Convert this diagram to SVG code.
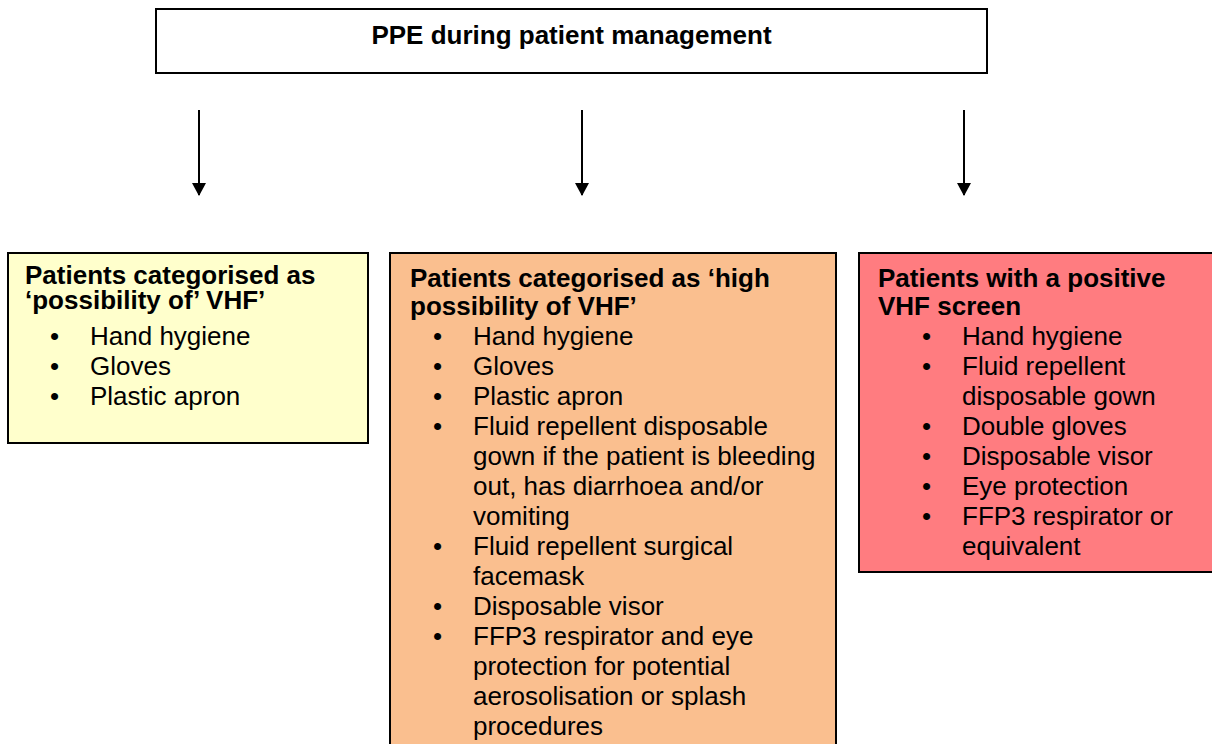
<svg xmlns="http://www.w3.org/2000/svg" width="1212" height="744" viewBox="0 0 1212 744">
<defs>
<marker id="arr" markerUnits="userSpaceOnUse" markerWidth="13" markerHeight="14" refX="12" refY="7" orient="auto" viewBox="0 0 13 14">
<path d="M0,0 L13,7 L0,14 Z" fill="#000"/>
</marker>
<style>
.box{stroke:#000;stroke-width:2}
.t{font-family:"Liberation Sans",Arial,sans-serif;font-size:26px;fill:#000}
.h{font-weight:bold}
.title{font-family:"Liberation Sans",Arial,sans-serif;font-size:26px;font-weight:bold;fill:#000}
.conn{stroke:#000;stroke-width:2;fill:none}
</style>
</defs>
<rect width="1212" height="744" fill="#fff"/>
<g id="top">
<rect class="box" x="156" y="9" width="831" height="64" fill="#fff"/>
<text class="title" x="571.5" y="44" text-anchor="middle">PPE during patient management</text>
</g>
<g id="connectors">
<line class="conn" x1="199" y1="110" x2="199" y2="195" marker-end="url(#arr)"/>
<line class="conn" x1="582" y1="110" x2="582" y2="195" marker-end="url(#arr)"/>
<line class="conn" x1="964" y1="110" x2="964" y2="195" marker-end="url(#arr)"/>
</g>
<g id="possible">
<rect class="box" x="8" y="253" width="360" height="190" fill="#FFFFCC"/>
<text class="t h" x="25" y="284">Patients categorised as</text>
<text class="t h" x="25" y="309">‘possibility of’ VHF’</text>
<text class="t" x="50" y="345">•</text><text class="t" x="90" y="345">Hand hygiene</text>
<text class="t" x="50" y="375">•</text><text class="t" x="90" y="375">Gloves</text>
<text class="t" x="50" y="405">•</text><text class="t" x="90" y="405">Plastic apron</text>
</g>
<g id="high">
<rect class="box" x="390" y="253" width="446" height="500" fill="#FABF8F"/>
<text class="t h" x="410" y="287">Patients categorised as ‘high</text>
<text class="t h" x="410" y="315">possibility of VHF’</text>
<text class="t" x="433" y="345">•</text><text class="t" x="473" y="345">Hand hygiene</text>
<text class="t" x="433" y="375">•</text><text class="t" x="473" y="375">Gloves</text>
<text class="t" x="433" y="405">•</text><text class="t" x="473" y="405">Plastic apron</text>
<text class="t" x="433" y="435">•</text><text class="t" x="473" y="435">Fluid repellent disposable</text>
<text class="t" x="473" y="465">gown if the patient is bleeding</text>
<text class="t" x="473" y="495">out, has diarrhoea and/or</text>
<text class="t" x="473" y="525">vomiting</text>
<text class="t" x="433" y="555">•</text><text class="t" x="473" y="555">Fluid repellent surgical</text>
<text class="t" x="473" y="585">facemask</text>
<text class="t" x="433" y="615">•</text><text class="t" x="473" y="615">Disposable visor</text>
<text class="t" x="433" y="645">•</text><text class="t" x="473" y="645">FFP3 respirator and eye</text>
<text class="t" x="473" y="675">protection for potential</text>
<text class="t" x="473" y="705">aerosolisation or splash</text>
<text class="t" x="473" y="735">procedures</text>
</g>
<g id="positive">
<rect class="box" x="859" y="253" width="360" height="319" fill="#FF7C80"/>
<text class="t h" x="878" y="287">Patients with a positive</text>
<text class="t h" x="878" y="315">VHF screen</text>
<text class="t" x="922" y="345">•</text><text class="t" x="962" y="345">Hand hygiene</text>
<text class="t" x="922" y="375">•</text><text class="t" x="962" y="375">Fluid repellent</text>
<text class="t" x="962" y="405">disposable gown</text>
<text class="t" x="922" y="435">•</text><text class="t" x="962" y="435">Double gloves</text>
<text class="t" x="922" y="465">•</text><text class="t" x="962" y="465">Disposable visor</text>
<text class="t" x="922" y="495">•</text><text class="t" x="962" y="495">Eye protection</text>
<text class="t" x="922" y="525">•</text><text class="t" x="962" y="525">FFP3 respirator or</text>
<text class="t" x="962" y="555">equivalent</text>
</g>
</svg>
